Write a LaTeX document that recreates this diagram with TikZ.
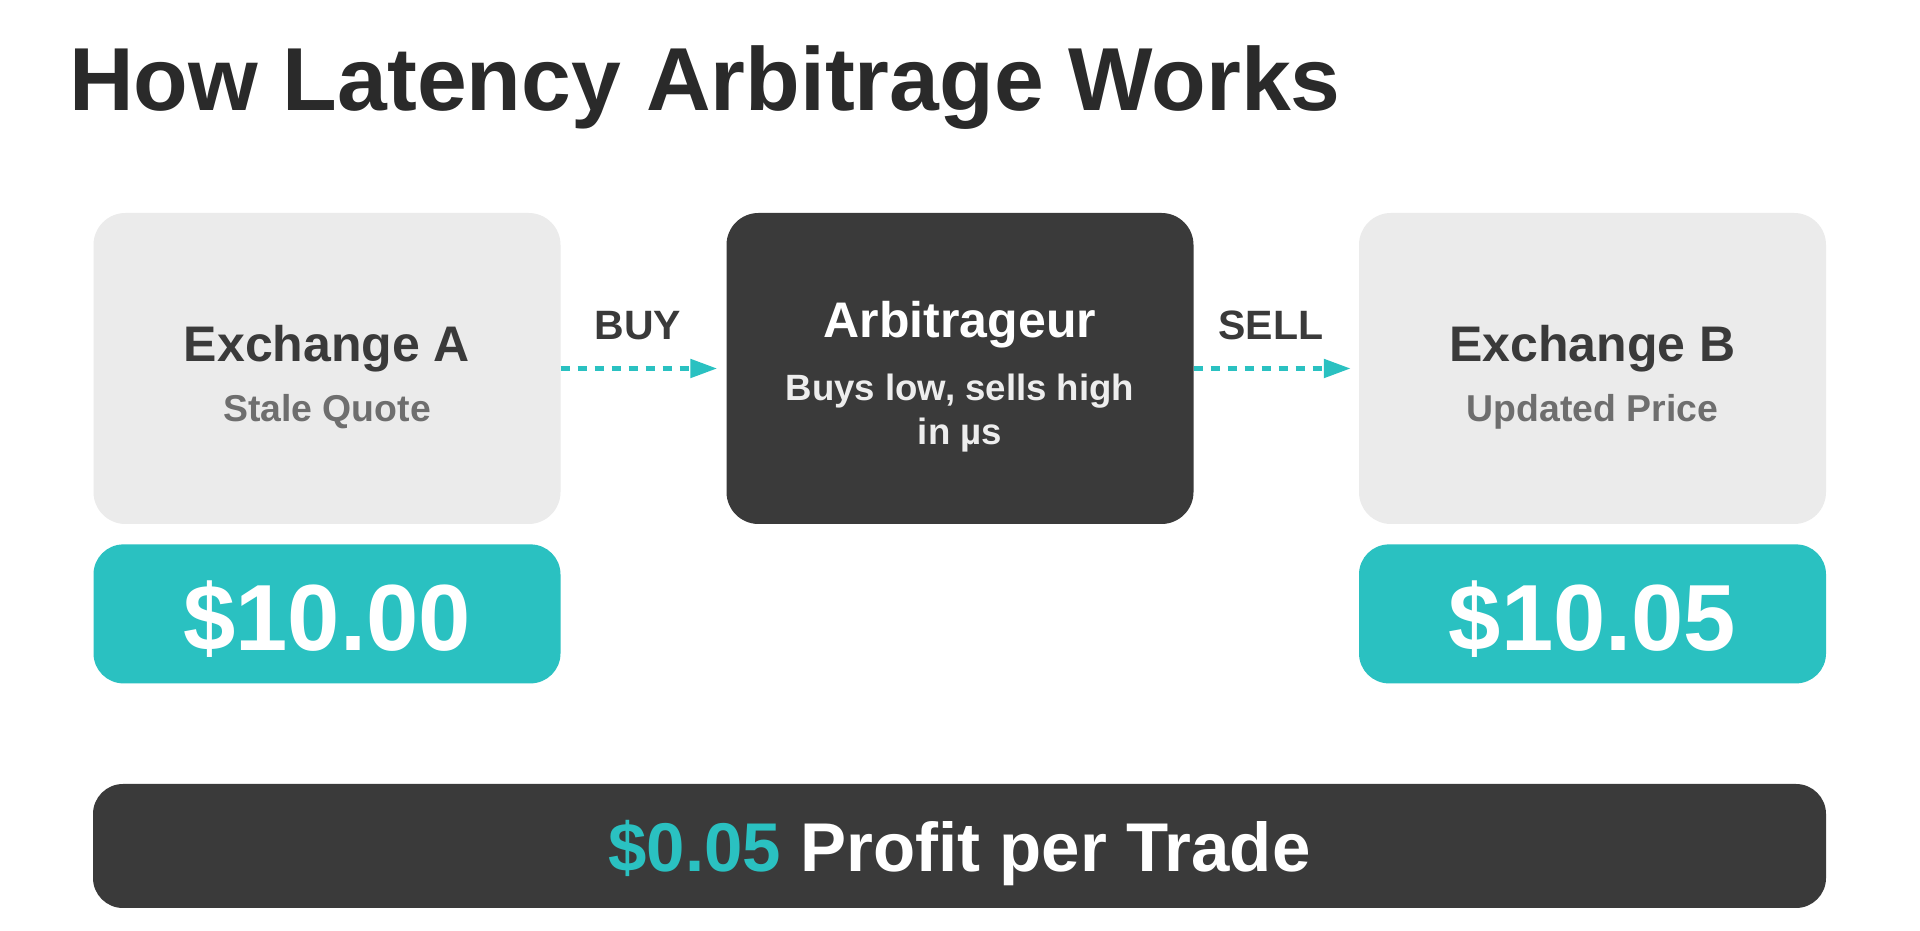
\documentclass[tikz,border=0pt]{standalone}
\usepackage{fontspec}
\setmainfont{Liberation Sans}
\usepackage{xcolor}
\usetikzlibrary{positioning}
\usetikzlibrary{arrows.meta}

\definecolor{panelgray}{HTML}{EBEBEB}
\definecolor{darkpanel}{HTML}{3A3A3A}
\definecolor{quoteteal}{HTML}{2AC1C1}
\definecolor{inkdark}{HTML}{2A2A2A}
\definecolor{subgray}{HTML}{6E6E6E}

\tikzset{
    panel/.style={rectangle, rounded corners=32pt, inner sep=0pt,
        minimum width=467pt, minimum height=311pt},
    pricebox/.style={rectangle, rounded corners=30pt, inner sep=0pt,
        fill=quoteteal, text=white, minimum width=467pt, minimum height=139pt,
        font=\fontsize{94}{100}\selectfont\bfseries},
    headtext/.style={anchor=base, inner sep=0pt, text=darkpanel,
        font=\fontsize{50}{56}\selectfont\bfseries},
    subtext/.style={anchor=base, inner sep=0pt, text=subgray,
        font=\fontsize{37.4}{43}\selectfont\bfseries},
    flowlabel/.style={anchor=base, inner sep=0pt, text=darkpanel,
        font=\fontsize{41}{46}\selectfont\bfseries},
    flow/.style={quoteteal, line width=5pt, dash pattern=on 9pt off 8pt,
        -{Triangle[length=27pt,width=18pt]}}
}

\begin{document}
\begin{tikzpicture}[x=1pt,y=1pt]
    \fill[white] (0,0) rectangle (1920,931);
    \useasboundingbox (0,0) rectangle (1920,931);

    \node (title) [anchor=base west, inner sep=0pt, text=inkdark,
        font=\fontsize{89.5}{96}\selectfont\bfseries] at (69,820)
        {How Latency Arbitrage Works};

    % three panels
    \node (exA) [panel, fill=panelgray] at (327,562.5) {};
    \node (arb) [panel, fill=darkpanel] at (960,562.5) {};
    \node (exB) [panel, fill=panelgray] at (1592.5,562.5) {};

    \node (exAname) [headtext] at (327,569) {Exchange A};
    \node (exAnote) [subtext] at (327,509) {Stale Quote};
    \node (exBname) [headtext] at (1592.5,569) {Exchange B};
    \node (exBnote) [subtext] at (1592.5,509) {Updated Price};

    \node (arbname) [headtext, text=white] at (960,593) {Arbitrageur};
    \node (arbnote) [subtext, text=white!93!black,
        font=\fontsize{36.6}{43}\selectfont\bfseries] at (960,530) {Buys low, sells high};
    \node (arbnote2) [subtext, text=white!93!black,
        font=\fontsize{36.6}{43}\selectfont\bfseries] at (960,486) {in µs};

    % prices
    \node (priceA) [pricebox, below=20pt of exA, text depth=0pt] {\raisebox{-4pt}{\$10.00}};
    \node (priceB) [pricebox, below=20pt of exB, text depth=0pt] {\raisebox{-4pt}{\$10.05}};

    % trades
    \draw[flow, shorten >=9pt] (exA.east) -- (arb.west);
    \draw[flow, shorten >=8pt] (arb.east) -- (exB.west);
    \node (buy) [flowlabel] at (638,591) {BUY};
    \node (sell) [flowlabel] at (1271,591) {SELL};

    \node (profit) [rectangle, rounded corners=30pt, inner sep=0pt, fill=darkpanel,
        text=white, minimum width=1733pt, minimum height=124pt,
        font=\fontsize{69}{76}\selectfont\bfseries] at (959.5,85) {};
    \node (profittext) [anchor=base, inner sep=0pt, text=white,
        font=\fontsize{69}{76}\selectfont\bfseries] at (959.5,59)
        {\textcolor{quoteteal}{\$0.05} Profit per Trade};
\end{tikzpicture}
\end{document}
